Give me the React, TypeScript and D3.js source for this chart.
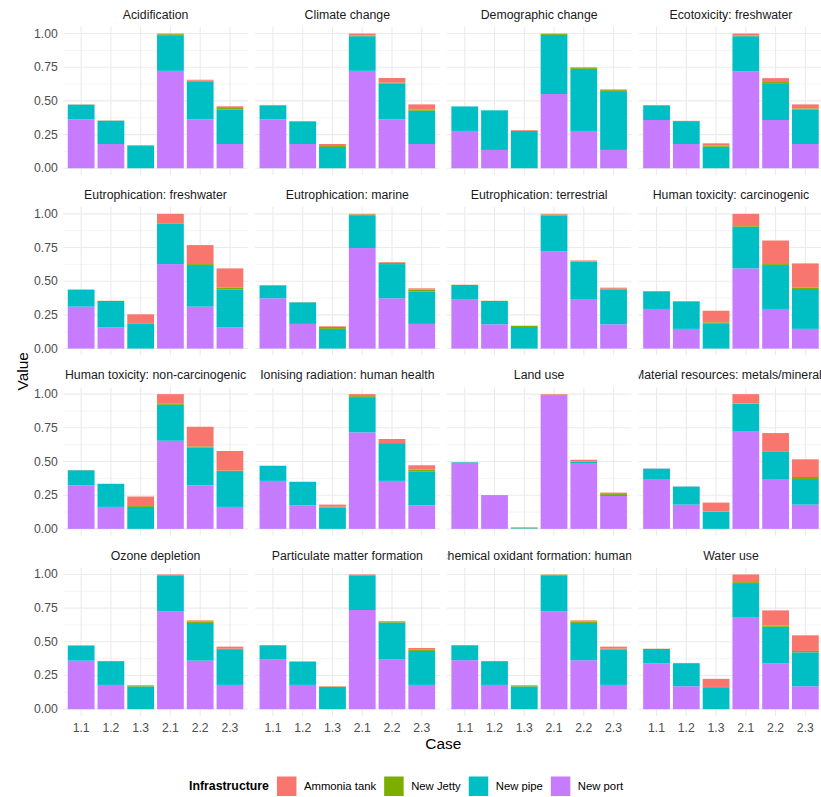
import React from 'react';
import * as d3 from 'd3';

const impacts = [
  'Acidification', 'Climate change', 'Demographic change', 'Ecotoxicity: freshwater',
  'Eutrophication: freshwater', 'Eutrophication: marine', 'Eutrophication: terrestrial', 'Human toxicity: carcinogenic',
  'Human toxicity: non-carcinogenic', 'Ionising radiation: human health', 'Land use', 'Material resources: metals/minerals',
  'Ozone depletion', 'Particulate matter formation', 'Photochemical oxidant formation: human health', 'Water use',
];
const cases = ['1.1', '1.2', '1.3', '2.1', '2.2', '2.3'];
const seriesNames = ['Ammonia tank', 'New Jetty', 'New pipe', 'New port'];
const seriesColors = ['#F8766D', '#7CAE00', '#00BFC4', '#C77CFF'];
const yTicks = [0, 0.25, 0.5, 0.75, 1];
const yMinor = [0.125, 0.375, 0.625, 0.875];

const newPort = [
  [0.363, 0.18, 0, 0.723, 0.363, 0.18],
  [0.363, 0.18, 0, 0.723, 0.363, 0.18],
  [0.277, 0.136, 0, 0.551, 0.277, 0.136],
  [0.358, 0.18, 0, 0.718, 0.358, 0.18],
  [0.311, 0.156, 0, 0.627, 0.311, 0.156],
  [0.373, 0.183, 0, 0.746, 0.373, 0.183],
  [0.363, 0.18, 0, 0.723, 0.363, 0.18],
  [0.294, 0.146, 0, 0.595, 0.294, 0.146],
  [0.323, 0.163, 0, 0.654, 0.323, 0.163],
  [0.356, 0.175, 0, 0.716, 0.356, 0.175],
  [0.489, 0.244, 0.001, 0.988, 0.489, 0.244],
  [0.365, 0.18, 0, 0.726, 0.365, 0.18],
  [0.36, 0.18, 0, 0.728, 0.36, 0.18],
  [0.368, 0.18, 0, 0.736, 0.368, 0.18],
  [0.363, 0.18, 0, 0.726, 0.363, 0.18],
  [0.341, 0.17, 0, 0.679, 0.341, 0.17],
];
const newPipe = [
  [0.109, 0.173, 0.165, 0.265, 0.279, 0.257],
  [0.104, 0.168, 0.158, 0.257, 0.267, 0.247],
  [0.182, 0.294, 0.277, 0.439, 0.461, 0.437],
  [0.109, 0.17, 0.16, 0.262, 0.274, 0.257],
  [0.126, 0.197, 0.185, 0.299, 0.309, 0.284],
  [0.096, 0.16, 0.146, 0.239, 0.254, 0.239],
  [0.109, 0.173, 0.16, 0.265, 0.281, 0.257],
  [0.131, 0.204, 0.188, 0.309, 0.326, 0.296],
  [0.112, 0.17, 0.163, 0.267, 0.282, 0.259],
  [0.111, 0.173, 0.158, 0.262, 0.274, 0.252],
  [0.005, 0.005, 0.004, 0.005, 0.01, 0.008],
  [0.082, 0.134, 0.126, 0.202, 0.21, 0.19],
  [0.112, 0.176, 0.168, 0.265, 0.28, 0.26],
  [0.106, 0.173, 0.165, 0.257, 0.274, 0.252],
  [0.111, 0.176, 0.168, 0.264, 0.277, 0.262],
  [0.106, 0.171, 0.163, 0.257, 0.271, 0.252],
];
const newJetty = [
  [0.001, 0.001, 0.004, 0.007, 0.008, 0.01],
  [0.001, 0.001, 0.007, 0.005, 0.005, 0.01],
  [0, 0, 0.002, 0.007, 0.008, 0.007],
  [0.001, 0.001, 0.008, 0.005, 0.008, 0.007],
  [0.001, 0.001, 0.005, 0.005, 0.007, 0.014],
  [0.001, 0.001, 0.014, 0.01, 0.01, 0.015],
  [0.001, 0.001, 0.008, 0.007, 0.004, 0.007],
  [0.001, 0.001, 0.007, 0.005, 0.007, 0.012],
  [0.001, 0.001, 0.007, 0.007, 0.007, 0.01],
  [0.001, 0.001, 0.007, 0.007, 0.007, 0.013],
  [0, 0, 0.003, 0.003, 0.002, 0.007],
  [0, 0, 0.002, 0.002, 0.003, 0.015],
  [0.001, 0.001, 0.005, 0.003, 0.009, 0.009],
  [0.001, 0.001, 0.002, 0.003, 0.007, 0.012],
  [0.001, 0.001, 0.005, 0.008, 0.009, 0.007],
  [0.001, 0.001, 0.002, 0.007, 0.008, 0.01],
];
const ammoniaTank = [
  [0.001, 0.001, 0.003, 0.005, 0.007, 0.013],
  [0.002, 0.002, 0.015, 0.015, 0.035, 0.037],
  [0, 0, 0.005, 0.003, 0.004, 0.005],
  [0.001, 0.001, 0.017, 0.015, 0.029, 0.03],
  [0.001, 0.001, 0.064, 0.069, 0.141, 0.141],
  [0.001, 0.001, 0.005, 0.005, 0.005, 0.01],
  [0.001, 0.001, 0.002, 0.005, 0.006, 0.008],
  [0.001, 0.001, 0.086, 0.091, 0.175, 0.178],
  [0.001, 0.001, 0.07, 0.072, 0.146, 0.146],
  [0.001, 0.001, 0.015, 0.015, 0.03, 0.032],
  [0.001, 0.001, 0.004, 0.004, 0.012, 0.01],
  [0.001, 0.001, 0.067, 0.07, 0.133, 0.131],
  [0.001, 0.001, 0.005, 0.004, 0.01, 0.015],
  [0.001, 0.001, 0.003, 0.004, 0.005, 0.01],
  [0.001, 0.001, 0.005, 0.002, 0.01, 0.015],
  [0.001, 0.001, 0.06, 0.057, 0.113, 0.116],
];

const W = 821;
const H = 797;
const FONT = '"Liberation Sans", Arial, Helvetica, sans-serif';
const panelLeft0 = 63.3;
const panelW = 184.5;
const colStep = 191.8;
const rowTop0 = 26.8;
const panelH = 148.2;
const rowStep = 180.3;

function textWidth(s: string, font: string): number {
  try {
    const ctx = document.createElement('canvas').getContext('2d');
    if (!ctx) return s.length * 6;
    ctx.font = font;
    return ctx.measureText(s).width;
  } catch (e) {
    return s.length * 6;
  }
}

export default function App() {
  const stackKeys = ['port', 'pipe', 'jetty', 'tank'];
  const keyColor: Record<string, string> = {
    port: seriesColors[3], pipe: seriesColors[2], jetty: seriesColors[1], tank: seriesColors[0],
  };
  const stack = d3.stack<any>().keys(stackKeys);

  const panels = impacts.map((name, i) => {
    const col = i % 4;
    const row = Math.floor(i / 4);
    const left = panelLeft0 + col * colStep;
    const top = rowTop0 + row * rowStep;
    const x = d3.scaleBand<string>().domain(cases).range([left, left + panelW]).paddingInner(0.1).paddingOuter(0.15);
    const y = d3.scaleLinear().domain([-0.05, 1.05]).range([top + panelH, top]);
    const rows = cases.map((c, j) => ({
      case: c, port: newPort[i][j], pipe: newPipe[i][j], jetty: newJetty[i][j], tank: ammoniaTank[i][j],
    }));
    const series = stack(rows);
    return { name, i, col, row, left, top, x, y, series };
  });

  const legendFont = `11.3px ${FONT}`;
  const legendTitleFont = `bold 12.3px ${FONT}`;
  const legendItems: { name: string; color: string; kx: number; tx: number }[] = [];
  let lx = 189;
  const titleW = textWidth('Infrastructure', legendTitleFont);
  lx += titleW + 8;
  seriesNames.forEach((n, k) => {
    const kx = lx;
    const tx = kx + 27;
    legendItems.push({ name: n, color: seriesColors[k], kx, tx });
    lx = tx + textWidth(n, legendFont) + 8;
  });

  const gridColor = '#EBEBEB';
  const areaCenterX = (panelLeft0 + panelLeft0 + 3 * colStep + panelW) / 2;
  const areaCenterY = (rowTop0 + rowTop0 + 3 * rowStep + panelH) / 2;
  const bottomRowBottom = rowTop0 + 3 * rowStep + panelH;

  return (
    <svg width={W} height={H} style={{ position: 'absolute', left: 0, top: 0, background: '#fff' }} fontFamily={FONT}>
      <rect x={0} y={0} width={W} height={H} fill="#fff" />
      <defs>
        {[0, 1, 2, 3].map((c) => (
          <clipPath id={`strip-clip-${c}`} key={c}>
            <rect x={panelLeft0 + c * colStep} y={0} width={panelW} height={H} />
          </clipPath>
        ))}
      </defs>
      {panels.map((p) => (
        <g key={p.name}>
          {/* minor grid */}
          {yMinor.map((t) => (
            <line key={'mn' + t} x1={p.left} x2={p.left + panelW} y1={p.y(t)} y2={p.y(t)} stroke={gridColor} strokeWidth={0.55} />
          ))}
          {yTicks.map((t) => (
            <line key={'mj' + t} x1={p.left} x2={p.left + panelW} y1={p.y(t)} y2={p.y(t)} stroke={gridColor} strokeWidth={1.1} />
          ))}
          {cases.map((c) => {
            const cx = (p.x(c) as number) + p.x.bandwidth() / 2;
            return <line key={'v' + c} x1={cx} x2={cx} y1={p.top} y2={p.top + panelH} stroke={gridColor} strokeWidth={1.1} />;
          })}
          {p.series.map((s) => (
            <g key={s.key} fill={keyColor[s.key]}>
              {s.map((d, j) => {
                const h = p.y(d[0]) - p.y(d[1]);
                if (h <= 0) return null;
                return (
                  <rect key={j} x={p.x(cases[j]) as number} width={p.x.bandwidth()} y={p.y(d[1])} height={h} />
                );
              })}
            </g>
          ))}
          <text
            x={p.left + panelW / 2}
            y={p.top - 12}
            textAnchor="middle"
            dominantBaseline="central"
            fontSize={12.3}
            fill="#1A1A1A"
            clipPath={`url(#strip-clip-${p.col})`}
          >
            {p.name}
          </text>
          {p.col === 0 &&
            yTicks.map((t) => (
              <text key={'yl' + t} x={p.left - 5.5} y={p.y(t)} textAnchor="end" dominantBaseline="central" fontSize={12.2} fill="#4D4D4D">
                {d3.format('.2f')(t)}
              </text>
            ))}
          {p.row === 3 &&
            cases.map((c) => (
              <text
                key={'xl' + c}
                x={(p.x(c) as number) + p.x.bandwidth() / 2}
                y={p.top + panelH + 12}
                textAnchor="middle"
                dominantBaseline="central"
                fontSize={12.2}
                fill="#4D4D4D"
              >
                {c}
              </text>
            ))}
        </g>
      ))}
      <text x={areaCenterX} y={bottomRowBottom + 28} textAnchor="middle" dominantBaseline="central" fontSize={15.4} fill="#000">
        Case
      </text>
      <text
        transform={`translate(22,${areaCenterY}) rotate(-90)`}
        textAnchor="middle"
        dominantBaseline="central"
        fontSize={15.4}
        fill="#000"
      >
        Value
      </text>
      <g>
        <text x={189} y={786} dominantBaseline="central" fontSize={12.3} fontWeight="bold" fill="#000">
          Infrastructure
        </text>
        {legendItems.map((it) => (
          <g key={it.name}>
            <rect x={it.kx} y={776.5} width={19.5} height={19.5} fill={it.color} />
            <text x={it.tx} y={786} dominantBaseline="central" fontSize={11.3} fill="#000">
              {it.name}
            </text>
          </g>
        ))}
      </g>
    </svg>
  );
}
